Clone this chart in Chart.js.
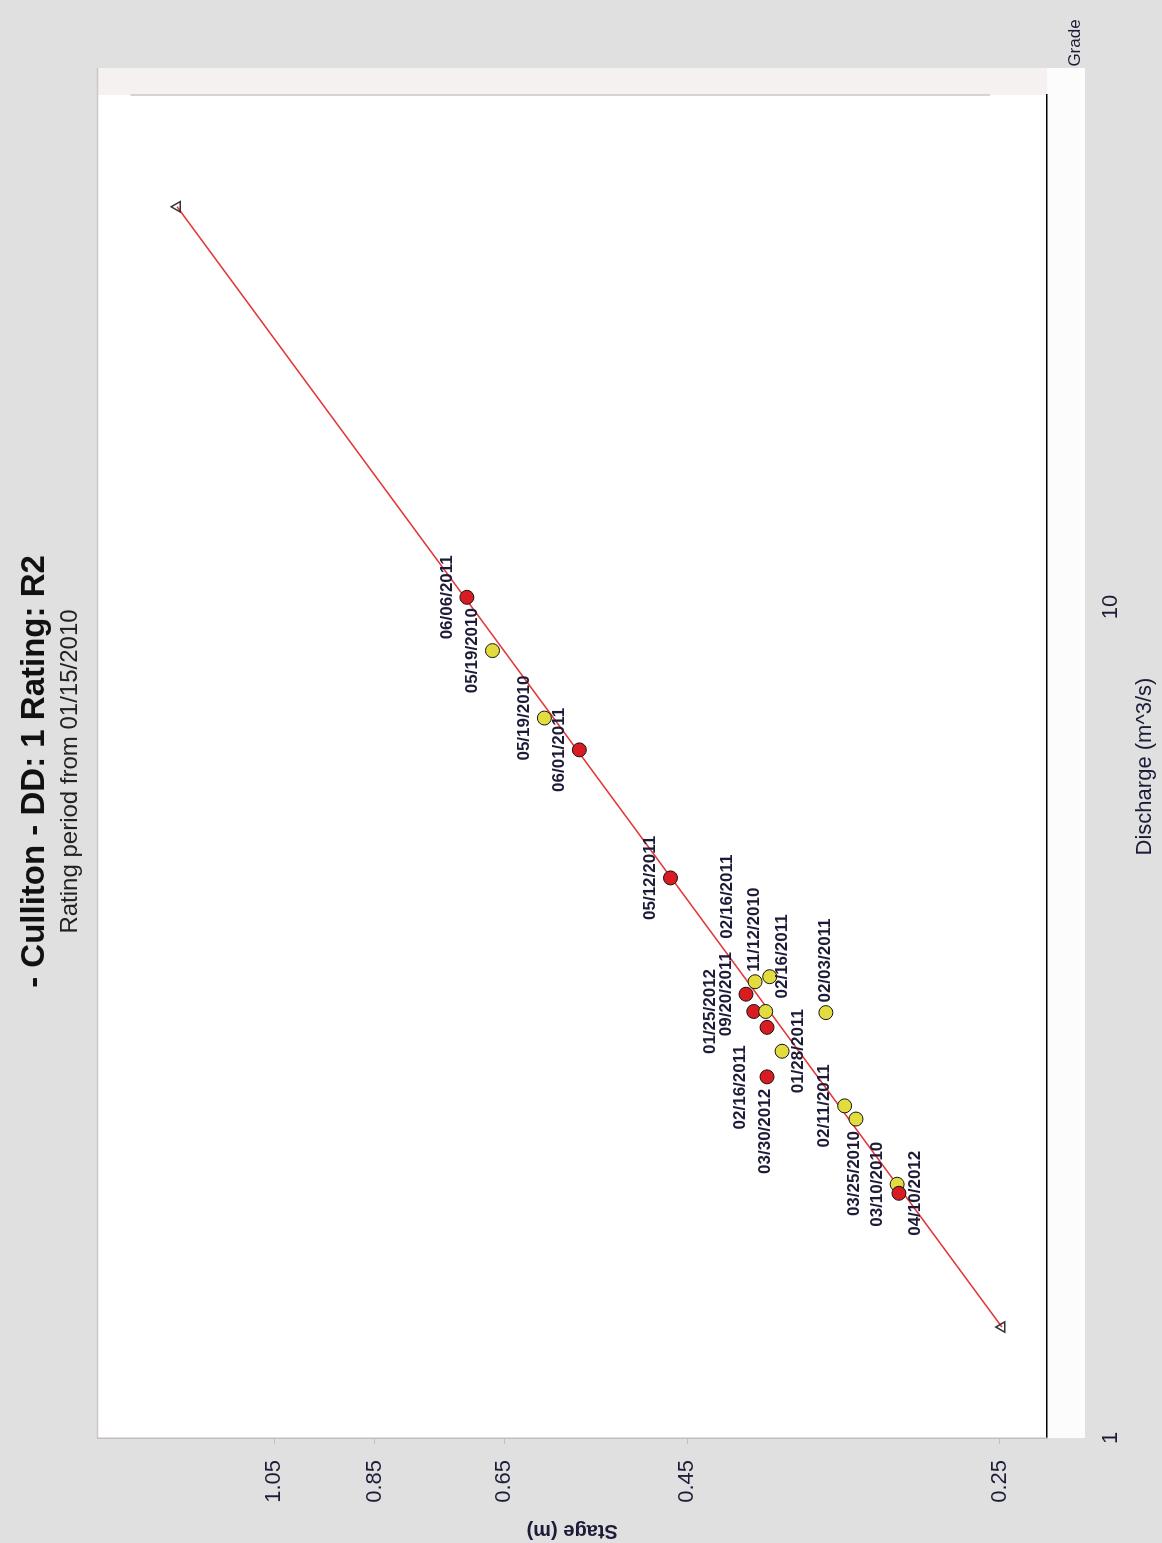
<!DOCTYPE html>
<html>
<head>
<meta charset="utf-8">
<title>Culliton - DD: 1 Rating: R2</title>
<script src="https://cdn.jsdelivr.net/npm/chart.js@4.4.1/dist/chart.umd.min.js"></script>
<style>
  html, body { margin: 0; padding: 0; background: #dfe0df; overflow: hidden; }
  /* the chart was printed sideways, so the whole canvas is turned 90deg */
  #page {
    position: absolute; left: 0; top: 0;
    width: 1543px; height: 1162px;
    transform-origin: 0 0;
    transform: translate(0, 1543px) rotate(-90deg);
  }
</style>
</head>
<body>
<div id="page"><canvas id="myChart" width="1543" height="1162"></canvas></div>
<script>
// rating offset (e): stage axis is log scaled on (stage - e)
const OFFSET = 0.05;

const stageTicks = [1.05, 0.85, 0.65, 0.45, 0.25];
const dischargeTicks = [1, 10];
const stageRange = [0.23, 1.53];
const dischargeRange = [1, 41.3];

// rating curve R2 end points
const ratingQ = [1.36, 30.3];
const ratingStage = [0.249, 1.29];

// field measurements
const measDates = [
  '06/06/2011', '05/19/2010', '05/19/2010', '06/01/2011', '05/12/2011',
  '11/12/2010', '02/16/2011', '09/20/2011', '01/25/2012', '02/16/2011',
  '02/16/2011', '01/28/2011', '03/30/2012', '02/03/2011', '02/11/2011',
  '03/25/2010', '03/10/2010', '04/10/2012'
];
const measQ = [
  10.27, 8.86, 7.35, 6.73, 4.72,
  3.54, 3.59, 3.42, 3.26, 3.26,
  3.12, 2.92, 2.72, 3.25, 2.51,
  2.42, 2.02, 1.97
];
const measStage = [
  0.702, 0.666, 0.599, 0.558, 0.465,
  0.394, 0.383, 0.401, 0.395, 0.386,
  0.385, 0.374, 0.385, 0.344, 0.332,
  0.325, 0.301, 0.300
];
const measGroup = [
  'A', 'B', 'B', 'A', 'A',
  'B', 'B', 'A', 'A', 'B',
  'A', 'B', 'A', 'B', 'B',
  'B', 'B', 'A'
];
// where each date label sits around its dot
const labelPlace = [
  'top', 'top', 'top', 'top', 'top',
  'right', 'topRight', 'top', 'top2', 'bottomRight',
  'topLeft', 'bottom', 'left', 'right', 'top',
  'left', 'top', 'bottom'
];

const groupColors = { A: '#d81c22', B: '#e2dc3e' };
const places = {
  top:         { dx: 0,   dy: -20, align: 'center' },
  top2:        { dx: 0,   dy: -43, align: 'center' },
  bottom:      { dx: 0,   dy: 16,  align: 'center' },
  right:       { dx: 10,  dy: -1,  align: 'left' },
  left:        { dx: -12, dy: -2,  align: 'right' },
  topRight:    { dx: 38,  dy: -42, align: 'left' },
  bottomRight: { dx: 13,  dy: 17,  align: 'left' },
  topLeft:     { dx: -18, dy: -27, align: 'right' }
};

const FONT = "'Liberation Sans', Arial, sans-serif";
const INK = '#1c1c38';
Chart.defaults.font.family = FONT;

const toPts = (qs, hs) => qs.map((q, i) => ({ x: q, y: hs[i] - OFFSET }));

// background panel, plot frame and the empty grade strip
const framePlugin = {
  id: 'frame',
  beforeDraw(chart) {
    const { ctx, chartArea: a } = chart;
    ctx.save();
    ctx.fillStyle = '#dfe0df';
    ctx.fillRect(0, 0, chart.width, chart.height);
    ctx.fillStyle = '#f5f1f0';
    ctx.fillRect(a.left, a.top, a.right - a.left + 27, a.bottom - a.top + 38);
    ctx.fillStyle = '#ffffff';
    ctx.fillRect(a.left, a.top, a.right - a.left, a.bottom - a.top);
    ctx.fillStyle = '#fcfcfc';
    ctx.fillRect(a.left, a.bottom, a.right - a.left + 27, 38);
    ctx.strokeStyle = '#cdc6c4';
    ctx.lineWidth = 1.5;
    ctx.beginPath();
    ctx.moveTo(a.left, a.top);
    ctx.lineTo(a.right + 27, a.top);
    ctx.moveTo(a.right, a.top + 33);
    ctx.lineTo(a.right, a.bottom - 57);
    ctx.stroke();
    ctx.restore();
  },
  afterDraw(chart) {
    const { ctx, chartArea: a } = chart;
    ctx.save();
    ctx.fillStyle = INK;
    ctx.font = '17px ' + FONT;
    ctx.textAlign = 'center';
    ctx.textBaseline = 'middle';
    ctx.fillText('Grade', a.right + 52, a.bottom + 28);
    ctx.restore();
  }
};

// date labels next to the measurement dots
const labelPlugin = {
  id: 'dateLabels',
  afterDatasetsDraw(chart) {
    const { ctx } = chart;
    const meta = chart.getDatasetMeta(0);
    ctx.save();
    ctx.font = 'bold 17px ' + FONT;
    ctx.fillStyle = INK;
    ctx.textBaseline = 'middle';
    meta.data.forEach((pt, i) => {
      const p = places[labelPlace[i]];
      ctx.textAlign = p.align;
      ctx.fillText(measDates[i], pt.x + p.dx, pt.y + p.dy);
    });
    ctx.restore();
  }
};

const data = {
  datasets: [
    {
      label: 'Measurements',
      data: toPts(measQ, measStage),
      pointRadius: 7,
      pointHoverRadius: 7,
      pointBackgroundColor: measGroup.map(g => groupColors[g]),
      pointBorderColor: '#141414',
      pointBorderWidth: 1,
      order: 0
    },
    {
      label: 'Rating R2',
      data: toPts(ratingQ, ratingStage),
      showLine: true,
      borderColor: '#e2383a',
      borderWidth: 1.6,
      pointStyle: 'triangle',
      pointRadius: 6,
      pointBorderColor: '#333',
      pointBackgroundColor: 'rgba(255,255,255,0)',
      pointBorderWidth: 1.5,
      order: 1
    }
  ]
};

const config = {
  type: 'scatter',
  data: data,
  options: {
    responsive: false,
    devicePixelRatio: 1,
    animation: false,
    layout: { padding: 0 },
    plugins: {
      legend: { display: false },
      tooltip: { enabled: false },
      title: {
        display: true,
        text: '- Culliton - DD: 1 Rating: R2',
        color: '#111',
        font: { size: 33, weight: 'bold' },
        padding: { top: 15, bottom: 0 }
      },
      subtitle: {
        display: true,
        text: 'Rating period from 01/15/2010',
        color: '#222',
        font: { size: 24 },
        padding: { top: 1, bottom: 13 }
      }
    },
    scales: {
      x: {
        type: 'logarithmic',
        position: 'bottom',
        min: dischargeRange[0],
        max: dischargeRange[1],
        afterBuildTicks: s => { s.ticks = dischargeTicks.map(v => ({ value: v })); },
        afterFit: s => { s.height = 115; },
        grid: { display: false, drawTicks: false },
        border: { display: true, color: '#000', width: 1.5 },
        ticks: {
          padding: 51,
          color: INK,
          font: { size: 22 },
          autoSkip: false,
          maxRotation: 0,
          callback: v => String(v)
        },
        title: {
          display: true,
          text: 'Discharge (m^3/s)',
          color: INK,
          font: { size: 22 },
          padding: { top: 0, bottom: 4 }
        }
      },
      y: {
        type: 'logarithmic',
        position: 'left',
        min: stageRange[0] - OFFSET,
        max: stageRange[1] - OFFSET,
        afterBuildTicks: s => { s.ticks = stageTicks.map(v => ({ value: v - OFFSET })); },
        afterFit: s => { s.width = 105; },
        grid: { display: true, drawOnChartArea: false, drawTicks: true, tickLength: 6, color: '#c4c0c0' },
        border: { display: true, color: '#c4bebd', width: 1.5 },
        ticks: {
          padding: 16,
          color: INK,
          font: { size: 22 },
          autoSkip: false,
          callback: v => (v + OFFSET).toFixed(2)
        },
        title: {
          display: true,
          text: 'Stage (m)',
          color: INK,
          font: { size: 20, weight: 'bold' },
          padding: { top: 0, bottom: 0 }
        }
      },
      // empty margin on the far side of the plot
      yRight: {
        type: 'linear',
        position: 'right',
        afterFit: s => { s.width = 95; },
        grid: { display: false, drawTicks: false },
        border: { display: false },
        ticks: { display: false }
      }
    }
  },
  plugins: [framePlugin, labelPlugin]
};

const myChart = new Chart(document.getElementById('myChart'), config);
</script>
</body>
</html>
